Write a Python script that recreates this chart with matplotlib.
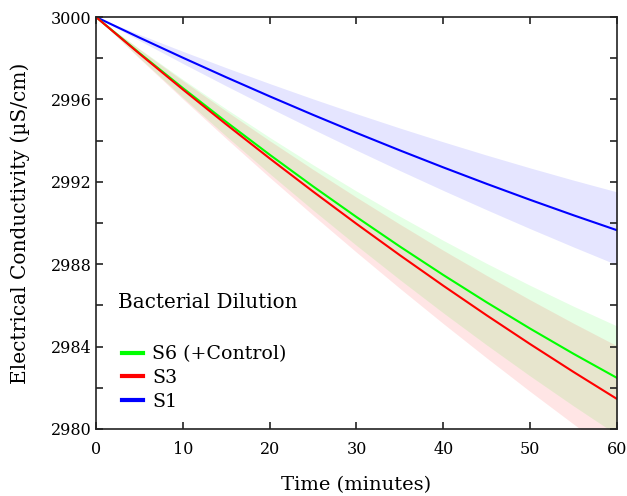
import matplotlib
matplotlib.use("Agg")
import matplotlib.pyplot as plt
from matplotlib.ticker import MultipleLocator, FuncFormatter

plt.rcParams["font.family"] = ["DejaVu Serif"]

time_min = [0, 5, 10, 15, 20, 25, 30, 35, 40, 45, 50, 55, 60]

# S1
s1 = [3000, 2999.0, 2998.025, 2997.075, 2996.15, 2995.25, 2994.375, 2993.525,
      2992.7, 2991.9, 2991.125, 2990.375, 2989.65]
s1_hi = [3000, 2999.155, 2998.335, 2997.54, 2996.77, 2996.025, 2995.305, 2994.61,
         2993.94, 2993.295, 2992.675, 2992.08, 2991.51]
s1_lo = [3000, 2998.86, 2997.745, 2996.655, 2995.59, 2994.55, 2993.535, 2992.545,
         2991.58, 2990.64, 2989.725, 2988.835, 2987.97]

# S3
s3 = [3000, 2998.22, 2996.483, 2994.788, 2993.136, 2991.527, 2989.96, 2988.436,
      2986.955, 2985.517, 2984.121, 2982.768, 2981.458]
s3_hi = [3000, 2998.435, 2996.913, 2995.433, 2993.996, 2992.602, 2991.25, 2989.941,
         2988.675, 2987.452, 2986.271, 2985.133, 2984.038]
s3_lo = [3000, 2997.99, 2996.023, 2994.098, 2992.216, 2990.377, 2988.58, 2986.826,
         2985.115, 2983.447, 2981.821, 2980.238, 2978.698]

# S6 (+Control)
s6 = [3000, 2998.25, 2996.553, 2994.908, 2993.316, 2991.777, 2990.291, 2988.857,
      2987.476, 2986.148, 2984.873, 2983.65, 2982.48]
s6_hi = [3000, 2998.46, 2996.973, 2995.538, 2994.156, 2992.827, 2991.551, 2990.327,
         2989.156, 2988.038, 2986.973, 2985.96, 2985.0]
s6_lo = [3000, 2998.02, 2996.093, 2994.218, 2992.396, 2990.627, 2988.911, 2987.247,
         2985.636, 2984.078, 2982.573, 2981.12, 2979.72]

fig = plt.figure(figsize=(6.27, 4.96), dpi=100)
ax = fig.add_axes([0.1531, 0.1351, 0.8309, 0.8306])

ax.fill_between(time_min, s1_lo, s1_hi, color="#0000ff", alpha=0.1, lw=0)
ax.fill_between(time_min, s6_lo, s6_hi, color="#00ff00", alpha=0.1, lw=0)
ax.fill_between(time_min, s3_lo, s3_hi, color="#ff0000", alpha=0.1, lw=0)

l1, = ax.plot(time_min, s1, color="#0000ff", lw=1.5)
l6, = ax.plot(time_min, s6, color="#00ff00", lw=1.5)
l3, = ax.plot(time_min, s3, color="#ff0000", lw=1.5)

ax.set_xlim(0, 60)
ax.set_ylim(2980, 3000)
ax.xaxis.set_major_locator(MultipleLocator(10))
ax.yaxis.set_major_locator(MultipleLocator(2))
ax.yaxis.set_major_formatter(FuncFormatter(lambda v, p: "%d" % v if round(v) % 4 == 0 else ""))
ax.tick_params(direction="in", top=True, right=True, length=5, width=1.2,
               color="#222222", labelsize=11.5)
ax.tick_params(axis="x", pad=9)
ax.tick_params(axis="y", pad=3)
for sp in ax.spines.values():
    sp.set_linewidth(1.2)
    sp.set_color("#222222")

ax.set_xlabel("Time (minutes)", fontsize=14, labelpad=13)
ax.set_ylabel("Electrical Conductivity (\u00b5S/cm)", fontsize=14.5, labelpad=15)

ax.text(0.042, 0.306, "Bacterial Dilution", transform=ax.transAxes,
        fontsize=14.3, va="center")
leg = ax.legend([l6, l3, l1], ["S6 (+Control)", "S3", "S1"],
                loc="center left", bbox_to_anchor=(0.05, 0.124), frameon=False,
                fontsize=13.7, handlelength=1.1, handletextpad=0.5,
                labelspacing=0.3, borderaxespad=0, borderpad=0)
for h in leg.get_lines():
    h.set_linewidth(3)

fig.savefig("out.png", dpi=100)
